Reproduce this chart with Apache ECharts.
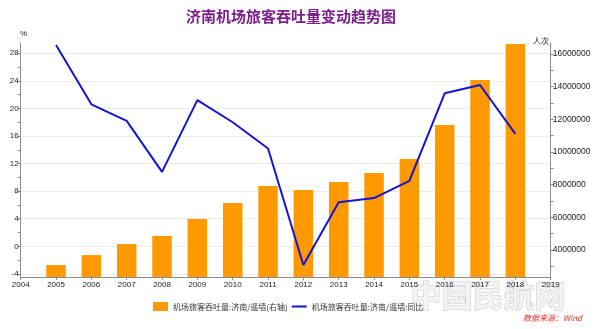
<!DOCTYPE html>
<html><head><meta charset="utf-8">
<script src="https://cdn.jsdelivr.net/npm/echarts@6/dist/echarts.min.js"></script>
<style>html,body{margin:0;padding:0;background:#fff}#c{width:600px;height:329px}</style>
</head><body><div id="c"></div>
<script>
const years = [2005,2006,2007,2008,2009,2010,2011,2012,2013,2014,2015,2016,2017,2018];
const passengers = [3080000,3690000,4370000,4860000,5900000,6880000,7920000,7670000,8160000,8720000,9570000,11650000,14400000,16600000];
const yoyGrowth = [29.2,20.6,18.2,10.8,21.2,18.0,14.2,-2.7,6.4,7.0,9.5,22.2,23.4,16.3];
const leftTickLabels = [-4,0,4,8,12,16,20,24,28];
const leftTicks = [-4,-2,0,2,4,6,8,10,12,14,16,18,20,22,24,26,28];
const rightTickLabels = [4000000,6000000,8000000,10000000,12000000,14000000,16000000];
const rightTicks = [3000000,4000000,5000000,6000000,7000000,8000000,9000000,10000000,11000000,12000000,13000000,14000000,15000000,16000000];
const barName = '机场旅客吞吐量:济南/遥墙(右轴)';
const lineName = '机场旅客吞吐量:济南/遥墙:同比';

const font = 'Liberation Sans, Arial, sans-serif';
const cjk = '"Noto Sans CJK SC", sans-serif';
const axisColor = '#8c8c8c';
const chart = echarts.init(document.getElementById('c'));
chart.setOption({
  animation: false,
  backgroundColor: '#fff',
  title: {
    text: '济南机场旅客吞吐量变动趋势图',
    left: 286, top: 4, textAlign: 'center',
    textStyle: {fontFamily: cjk, fontSize: 15, fontWeight: 'bold', color: '#7d1e8c'}
  },
  grid: {left: 20.7, right: 49.3, top: 43.3, bottom: 52, containLabel: false},
  legend: {
    left: 148, top: 297, itemWidth: 15, itemHeight: 9, itemGap: 3,
    textStyle: {fontFamily: cjk, fontSize: 8, color: '#333'},
    data: [
      {name: barName, icon: 'rect'},
      {name: lineName, itemStyle: {opacity: 0, borderWidth: 0}}
    ]
  },
  xAxis: {
    type: 'value', min: 2004, max: 2019, interval: 1,
    axisLine: {show: true, onZero: false, lineStyle: {color: axisColor}},
    axisTick: {show: true, length: 3, lineStyle: {color: axisColor}},
    axisLabel: {fontFamily: font, fontSize: 8, color: '#222', margin: 4, formatter: v => String(v)},
    splitLine: {show: false}
  },
  yAxis: [
    {
      type: 'value', position: 'left', min: -4.45, max: 29.45,
      axisLine: {show: true, onZero: false, lineStyle: {color: axisColor}},
      axisTick: {show: true, length: 3, customValues: leftTicks, lineStyle: {color: axisColor}},
      axisLabel: {customValues: leftTickLabels, fontFamily: font, fontSize: 8, color: '#222', margin: 2, formatter: v => String(v)},
      splitLine: {show: false}
    },
    {
      type: 'value', position: 'right', min: 2350000, max: 16650000,
      axisLine: {show: true, onZero: false, lineStyle: {color: axisColor}},
      axisTick: {show: true, length: 3, customValues: rightTicks, lineStyle: {color: axisColor}},
      axisLabel: {customValues: rightTickLabels, fontFamily: font, fontSize: 8.5, color: '#222', margin: 2, formatter: v => String(v)},
      splitLine: {show: false}
    },
    {
      type: 'value', position: 'left', min: -4.45, max: 29.45,
      axisLine: {show: false, onZero: false},
      axisTick: {show: false, customValues: leftTickLabels},
      axisLabel: {show: false, customValues: leftTickLabels},
      splitLine: {show: true, showMinLine: true, lineStyle: {color: '#ececec', width: 1}}
    }
  ],
  series: [
    {
      name: barName, type: 'bar', yAxisIndex: 1, barWidth: 19.5,
      itemStyle: {color: '#ff9900'},
      data: years.map((y, i) => [y, passengers[i]])
    },
    {
      name: lineName, type: 'line', yAxisIndex: 0, symbol: 'none',
      lineStyle: {color: '#1414d2', width: 2},
      itemStyle: {color: '#1414d2'},
      data: years.map((y, i) => [y, yoyGrowth[i]])
    }
  ],
  graphic: [
    {type: 'text', left: 410, top: 279, z: -10, silent: true,
     style: {text: '中国民航网', font: 'bold 31px "Noto Sans CJK SC"', fill: '#f3f3f3', stroke: '#c8c8c8', lineWidth: 1}},
    {type: 'text', left: 20, top: 30,
     style: {text: '%', font: '8px ' + font, fill: '#222'}},
    {type: 'text', right: 51, top: 37,
     style: {text: '人次', font: '8px ' + cjk, fill: '#222'}},
    {type: 'text', left: 523, top: 314,
     style: {text: '数据来源：Wind', font: 'italic 8px ' + cjk, fill: '#e52b2b'}}
  ]
});
</script></body></html>
